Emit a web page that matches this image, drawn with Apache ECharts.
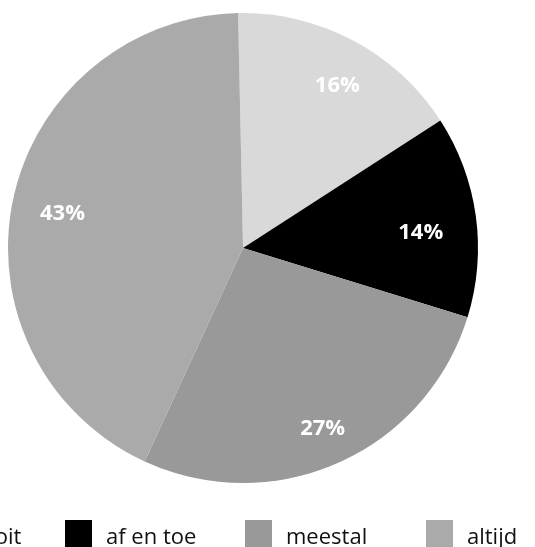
<!DOCTYPE html>
<html>
<head>
<meta charset="utf-8">
<style>
html,body{margin:0;padding:0;background:#fff;}
#chart{width:535px;height:547px;}
</style>
<script src="https://cdn.jsdelivr.net/npm/echarts@6/dist/echarts.min.js"></script>
</head>
<body>
<div id="chart"></div>
<script>
const categories = ['nooit', 'af en toe', 'meestal', 'altijd'];
const values = [16.2, 13.9, 27.1, 42.8];
const colors = ['#d9d9d9', '#000000', '#999999', '#aaaaaa'];
const labelShift = [[5, 6], [-11, 11], [2, 7], [6, 5]];
const legendLeft = [-78, 60, 240, 421];

const chart = echarts.init(document.getElementById('chart'), null, {renderer: 'canvas'});
const font = '"Open Sans", "Noto Sans", sans-serif';

const baseData = categories.map((c, i) => ({name: c, value: values[i], itemStyle: {color: colors[i]}}));
const labelData = categories.map((c, i) => ({name: c, value: values[i]}));

const legends = categories.map((c, i) => ({
  data: [{name: c, itemStyle: {color: colors[i]}}],
  left: legendLeft[i],
  top: 515,
  itemWidth: 27,
  itemHeight: 28,
  icon: 'rect',
  selectedMode: false,
  formatter: n => '{t|' + n + '}',
  textStyle: {
    fontFamily: font, fontSize: 22, color: '#111', padding: [0, 0, 0, 9],
    rich: {t: {fontFamily: font, fontSize: 22, color: '#111', padding: [8, 0, 0, 0]}}
  }
}));

chart.setOption({
  animation: false,
  color: colors,
  legend: legends,
  series: [
    {
      type: 'pie',
      center: [243, 248],
      radius: [0, 235],
      startAngle: 91.2,
      clockwise: true,
      data: baseData,
      label: {show: false},
      labelLine: {show: false},
      itemStyle: {borderWidth: 0},
      emphasis: {disabled: true},
      silent: true
    },
    {
      type: 'pie',
      center: [243, 248],
      radius: [140, 235],
      startAngle: 91.2,
      clockwise: true,
      percentPrecision: 0,
      data: labelData,
      z: 5,
      itemStyle: {color: 'rgba(0,0,0,0)', borderWidth: 0},
      label: {
        show: true,
        position: 'inside',
        formatter: '{d}%',
        color: '#ffffff',
        fontFamily: font,
        fontWeight: 'bold',
        fontSize: 22
      },
      labelLayout: p => ({dx: labelShift[p.dataIndex][0], dy: labelShift[p.dataIndex][1]}),
      labelLine: {show: false},
      emphasis: {disabled: true},
      silent: true
    }
  ]
});
</script>
</body>
</html>
